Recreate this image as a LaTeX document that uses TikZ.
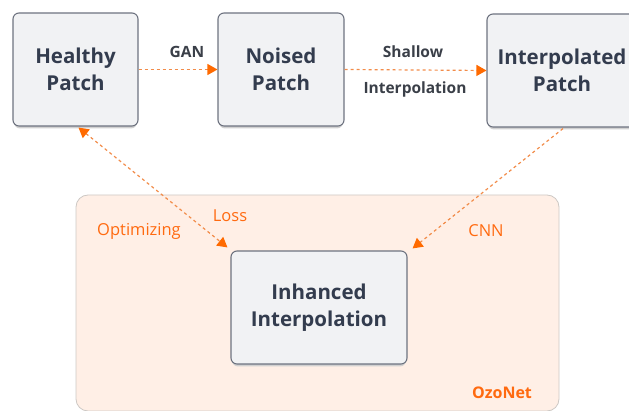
\documentclass[tikz,border=0pt]{standalone}
\usepackage{fontspec}
\setmainfont{Open Sans}
\usetikzlibrary{arrows.meta}
\definecolor{boxfill}{HTML}{F1F2F4}
\definecolor{boxline}{HTML}{6E7380}
\definecolor{boxtext}{HTML}{333C4E}
\definecolor{labeltext}{HTML}{3A3F48}
\definecolor{flowline}{HTML}{F28C4A}
\definecolor{flowtip}{HTML}{FF6A00}
\definecolor{netfill}{HTML}{FFEFE6}
\definecolor{netline}{HTML}{CDC8C4}
\definecolor{nettext}{HTML}{FF6A10}
\tikzset{
  patchbox/.style={draw=boxline, line width=1.1pt, fill=boxfill, rounded corners=6pt,
    align=center, text=boxtext, font=\fontsize{20.5}{27.5}\selectfont\bfseries,
    inner sep=0pt},
  flow/.style={draw=flowline, line width=1.2pt, dash pattern=on 3pt off 3pt,
    -{Triangle[length=10pt,width=11pt,color=flowtip]}},
  twoflow/.style={flow, {Triangle[length=10pt,width=11pt,color=flowtip]}-{Triangle[length=10pt,width=11pt,color=flowtip]}},
  edgelabel/.style={text=labeltext, font=\fontsize{15.5}{18}\selectfont\bfseries},
  netlabel/.style={text=nettext, font=\fontsize{16.5}{19}\selectfont},
}
\begin{document}
\begin{tikzpicture}[x=1pt, y=-1pt]
  \useasboundingbox (0,0) rectangle (629,411);
  \begin{scope}
    \clip (0,0) rectangle (629,411);
    % OzoNet region
    \node (net) [draw=netline, line width=0.8pt, fill=netfill, rounded corners=12pt,
      minimum width=483pt, minimum height=216pt, inner sep=0pt] at (317.5,303) {};
    % soft shadows under the boxes
    \foreach \cx/\cy/\w in {75.5/71.5/125, 281/71.5/126, 562/72.5/150, 319/309.5/176}
      \fill[black!18, rounded corners=6pt] (\cx-\w/2+1,\cy-55) rectangle (\cx+\w/2-1,\cy+57);
    % boxes
    \node (healthy) [patchbox, minimum width=125pt, minimum height=113pt] at (75.5,69.5) {Healthy\\Patch};
    \node (noised) [patchbox, minimum width=126pt, minimum height=113pt] at (281,69.5) {Noised\\Patch};
    \node (interp) [patchbox, minimum width=150pt, minimum height=113pt] at (562,70.5) {Interpolated\\Patch};
    \node (inh) [patchbox, minimum width=176pt, minimum height=113pt] at (319,307.5) {Inhanced\\Interpolation};
    % connectors
    \draw[flow] (healthy.east) -- (noised.west);
    \draw[flow] (noised.east) -- (interp.west);
    \draw[twoflow] ([xshift=3pt,yshift=-1pt]healthy.south) -- ([xshift=-3pt,yshift=3pt]inh.north west);
    \draw[flow] ([xshift=1pt,yshift=-1pt]interp.south) -- ([xshift=5pt,yshift=2pt]inh.north east);
    % labels
    \node (lgan) [edgelabel] at (187,52) {GAN};
    \node (lsh1) [edgelabel] at (413,52) {Shallow};
    \node (lsh2) [edgelabel] at (415,89) {Interpolation};
    \node (lloss) [netlabel] at (230,216) {Loss};
    \node (lopt) [netlabel] at (139,231) {Optimizing};
    \node (lcnn) [netlabel] at (486,231) {CNN};
    \node (lnet) [netlabel, font=\fontsize{16}{19}\selectfont\bfseries] at (502,393) {OzoNet};
  \end{scope}
\end{tikzpicture}
\end{document}
